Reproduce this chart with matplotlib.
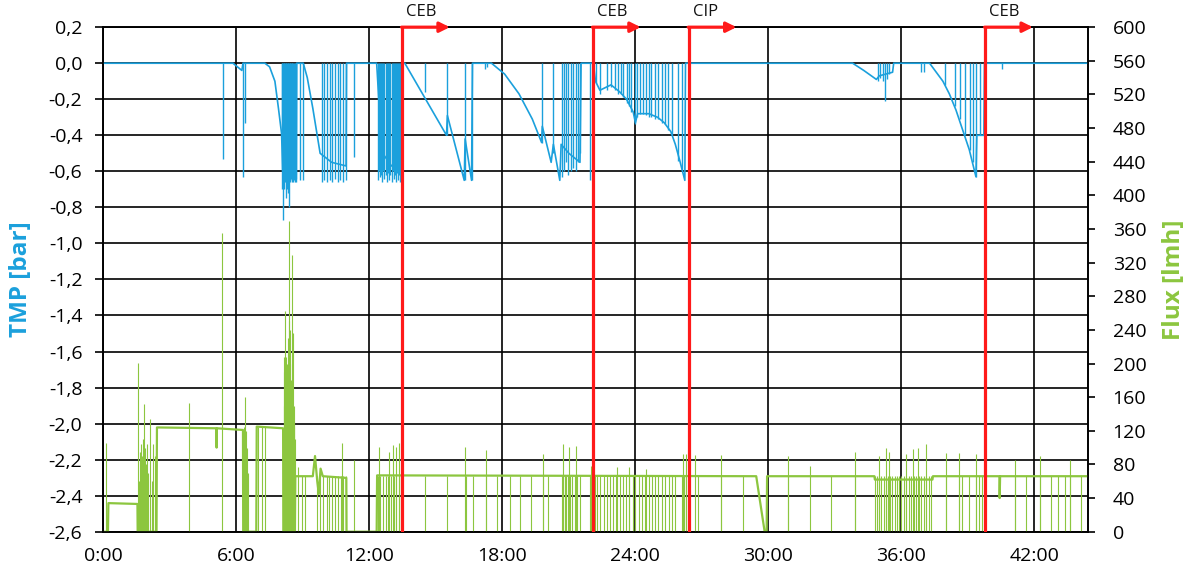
import matplotlib
matplotlib.use('Agg')
import matplotlib.pyplot as plt
import numpy as np

# --- data (time in hours) ---
# TMP trace breakpoints (t, bar)
tmp_trace = [
    (0, 0), (5.85, 0), (6.05, -0.02), (6.25, -0.04), (6.3, 0), (7.29, 0),
    (7.5, -0.02), (7.74, -0.1), (7.9, -0.25), (8.04, -0.39), (8.1, -0.6),
    (8.7, -0.62), (8.72, 0), (9.02, 0), (9.2, -0.08), (9.45, -0.25),
    (9.78, -0.5), (10.3, -0.55), (10.95, -0.57), (10.97, 0), (12.33, 0),
    (12.45, -0.25), (12.6, -0.5), (13.0, -0.57), (13.45, -0.58), (13.47, 0),
    (13.6, 0), (15.48, -0.4), (15.52, -0.29), (16.28, -0.65), (16.32, -0.42),
    (16.61, -0.65), (16.65, 0), (17.51, 0), (18.1, -0.06), (18.75, -0.17),
    (19.35, -0.31), (19.77, -0.44), (19.8, -0.35), (20.2, -0.55),
    (20.3, -0.45), (20.59, -0.65), (20.65, -0.45), (21.0, -0.5),
    (21.5, -0.55), (21.55, 0), (22.1, 0), (22.2, -0.1), (22.4, -0.15),
    (22.9, -0.12), (23.3, -0.16), (23.6, -0.2), (23.9, -0.27), (24.0, -0.33),
    (24.1, -0.28), (24.6, -0.28), (25.0, -0.3), (25.3, -0.33), (25.6, -0.38),
    (25.8, -0.45), (26.0, -0.54), (26.23, -0.65), (26.26, 0), (33.8, 0),
    (34.3, -0.04), (34.87, -0.09), (35.0, -0.07), (35.6, -0.05), (35.65, 0),
    (37.27, 0), (37.87, -0.1), (38.16, -0.17), (38.46, -0.26), (38.76, -0.37),
    (39.06, -0.48), (39.36, -0.63), (39.4, -0.4), (39.72, -0.4), (39.75, 0),
    (44.4, 0),
]

# TMP spikes: vertical strokes from 0 down to the value
tmp_spikes = [
    (5.38, -0.53), (6.31, -0.63), (6.39, -0.33),
    (8.05, -0.6), (8.08, -0.7), (8.11, -0.87), (8.14, -0.7), (8.17, -0.65),
    (8.2, -0.66), (8.23, -0.75), (8.26, -0.66), (8.29, -0.7), (8.32, -0.66),
    (8.35, -0.72), (8.38, -0.8), (8.41, -0.65), (8.44, -0.66), (8.47, -0.64),
    (8.5, -0.66), (8.53, -0.65), (8.56, -0.66), (8.6, -0.65), (8.64, -0.66),
    (8.68, -0.64), (8.71, -0.66), (8.87, -0.65), (8.99, -0.65),
    (9.85, -0.66), (9.97, -0.65), (10.09, -0.66), (10.21, -0.65),
    (10.33, -0.66), (10.45, -0.64), (10.57, -0.66), (10.69, -0.65),
    (10.81, -0.66), (10.93, -0.65), (11.3, -0.52),
    (12.38, -0.65), (12.43, -0.6), (12.48, -0.63), (12.53, -0.62),
    (12.58, -0.66), (12.63, -0.6), (12.68, -0.64), (12.74, -0.62),
    (12.79, -0.66), (12.85, -0.61), (12.9, -0.65), (12.95, -0.62),
    (13.0, -0.66), (13.05, -0.6), (13.1, -0.64), (13.15, -0.62),
    (13.2, -0.66), (13.25, -0.61), (13.3, -0.65), (13.35, -0.62),
    (13.4, -0.66),
    (14.5, -0.16), (15.5, -0.4), (16.3, -0.65), (16.63, -0.65),
    (17.2, -0.03), (17.3, -0.02), (19.77, -0.44), (20.29, -0.5),
    (20.68, -0.63), (20.78, -0.6), (20.86, -0.55), (20.98, -0.62),
    (21.08, -0.6), (21.19, -0.58), (21.31, -0.6), (21.43, -0.55),
    (21.5, -0.5), (21.94, -0.65),
    (22.24, -0.11), (22.39, -0.17), (22.7, -0.15), (22.89, -0.13),
    (23.07, -0.15), (23.22, -0.17), (23.33, -0.17), (23.44, -0.185),
    (23.6, -0.22), (23.71, -0.24), (23.82, -0.27), (23.97, -0.34),
    (24.09, -0.3), (24.23, -0.28), (24.35, -0.28), (24.5, -0.29),
    (24.62, -0.3), (24.72, -0.3), (24.87, -0.31), (25.02, -0.31),
    (25.18, -0.33), (25.32, -0.34), (25.47, -0.37), (25.63, -0.4),
    (25.92, -0.54), (26.08, -0.59),
    (34.95, -0.1), (35.05, -0.08), (35.15, -0.1), (35.27, -0.21),
    (35.35, -0.09), (35.45, -0.06), (36.9, -0.05), (37.0, -0.05),
    (37.95, -0.12), (38.4, -0.24), (38.62, -0.31), (38.85, -0.4),
    (39.07, -0.48), (39.22, -0.55), (39.37, -0.63), (39.53, -0.4),
    (39.72, -0.4), (40.53, -0.03),
]

# Flux trace breakpoints (t, lmh)
flux_trace = [
    (0, 0), (0.21, 0), (0.23, 34), (1.54, 33), (1.55, 0), (2.4, 0),
    (2.42, 124), (5.1, 123), (5.11, 100), (5.12, 123), (6.3, 121), (6.31, 0),
    (6.9, 0), (6.92, 125), (8.11, 123), (8.12, 0), (8.64, 0), (8.66, 66),
    (9.45, 66), (9.55, 90), (9.65, 60), (9.72, 45), (9.8, 75), (9.9, 66),
    (10.96, 64), (10.97, 0), (12.33, 0), (12.35, 67), (29.45, 66),
    (29.83, 0), (29.92, 0), (29.94, 66), (34.78, 66), (34.8, 62),
    (37.4, 62), (37.42, 66), (40.42, 66), (40.43, 40), (40.45, 66),
    (44.4, 66),
]

flux_level_hi = 124
flux_level_lo = 66

# drops to zero from the ~124 lmh level
flux_drops_hi = [6.99, 7.14, 7.3]

# drops to zero from the ~66 lmh level
flux_drops_lo = [
    8.94, 9.09, 9.62, 9.77, 9.92, 10.07, 10.19, 10.31, 10.43, 10.57, 10.7,
    10.82, 10.94, 12.38, 12.5, 12.62, 12.74, 12.86, 12.98, 13.1, 13.22,
    13.34, 13.44, 14.5, 15.48, 16.38, 16.68, 17.25, 17.74, 18.34, 18.79,
    19.31, 19.84, 20.06, 20.67, 20.74, 20.82, 20.89, 20.96, 21.07, 21.16,
    21.27, 21.37, 21.49, 21.97, 22.06, 22.17, 22.28, 22.41, 22.57, 22.7,
    22.86, 22.98, 23.14, 23.3, 23.43, 23.58, 23.72, 23.88, 24.0, 24.17,
    24.31, 24.44, 24.6, 24.76, 24.9, 25.04, 25.19, 25.35, 25.5, 25.63,
    25.79, 26.1, 26.2, 26.3, 26.83, 27.88, 28.86, 30.88, 32.84, 33.89,
    34.79, 34.9, 34.99, 35.1, 35.2, 35.29, 35.39, 35.5, 35.59, 35.69, 35.8,
    35.89, 36.0, 36.1, 36.22, 36.34, 36.45, 36.55, 36.67, 36.79, 36.9, 37.0,
    37.12, 37.24, 37.35, 38.0, 38.6, 38.75, 39.05, 39.35, 39.5, 39.65,
    41.1, 41.63, 42.23, 42.76, 43.06, 43.36, 43.58, 44.11,
]

# spikes drawn from zero up to the value
flux_peaks = [
    (0.1, 105), (1.56, 201), (1.62, 60), (1.66, 95), (1.7, 104), (1.74, 90),
    (1.77, 110), (1.8, 85), (1.84, 152), (1.88, 100), (1.92, 80),
    (1.96, 104), (2.0, 70), (2.1, 134), (2.18, 60), (2.25, 104), (2.35, 90),
    (3.88, 153), (5.34, 355), (6.33, 124), (6.39, 160), (6.44, 120),
    (6.48, 100), (6.53, 70),
    (8.13, 208), (8.15, 150), (8.17, 190), (8.19, 263), (8.21, 170),
    (8.23, 208), (8.25, 140), (8.27, 200), (8.29, 180), (8.31, 230),
    (8.33, 160), (8.36, 250), (8.39, 370), (8.41, 200), (8.44, 240),
    (8.46, 180), (8.49, 329), (8.51, 160), (8.53, 140), (8.56, 236),
    (8.58, 130), (8.6, 150), (8.62, 125), (8.64, 110),
    (8.79, 77), (10.75, 105), (11.32, 85), (12.45, 101), (12.9, 95),
    (13.07, 103), (13.2, 101), (13.35, 105), (16.3, 101), (17.25, 97),
    (19.84, 92), (20.74, 104), (21.0, 101), (21.3, 102), (22.0, 78),
    (23.15, 77), (23.7, 77), (24.5, 74), (26.15, 93), (26.3, 93),
    (26.7, 91), (27.88, 91), (30.88, 90), (31.86, 78), (33.89, 95),
    (35.0, 90), (35.3, 100), (35.45, 95), (36.2, 92), (36.5, 98),
    (36.75, 100), (37.1, 104), (38.0, 94), (38.6, 94), (39.35, 92),
    (41.1, 85), (42.25, 90), (43.6, 85),
]

event_names = ['CEB', 'CEB', 'CIP', 'CEB']
event_times = [13.48, 22.09, 26.41, 39.78]

tmp_ticks = [-2.6, -2.4, -2.2, -2.0, -1.8, -1.6, -1.4, -1.2, -1.0, -0.8,
             -0.6, -0.4, -0.2, 0.0, 0.2]
flux_ticks = list(range(0, 601, 40))
time_ticks = [0, 6, 12, 18, 24, 30, 36, 42]
time_labels = ['0:00', '6:00', '12:00', '18:00', '24:00', '30:00', '36:00', '42:00']

# --- style ---
blue = '#1BA0DC'
green = '#8CC63F'
red = '#FF1A1A'
plt.rcParams['font.family'] = ['Open Sans', 'DejaVu Sans']

fig = plt.figure(figsize=(11.86, 5.76), dpi=100)
ax = fig.add_axes([0.0871, 0.0769, 0.8300, 0.8759])
ax2 = ax.twinx()

ax.set_xlim(0, 44.4)
ax.set_ylim(-2.6, 0.2)
ax2.set_ylim(0, 600)

# grid
ax.set_yticks(tmp_ticks)
ax.set_yticklabels([f'{v:.1f}'.replace('.', ',') for v in tmp_ticks])
ax.set_xticks(time_ticks)
ax.set_xticklabels(time_labels)
ax.grid(True, color='black', linewidth=1.2)
ax.set_axisbelow(True)
for sp in ax.spines.values():
    sp.set_color('black')
    sp.set_linewidth(1.2)
for sp in ax2.spines.values():
    sp.set_color('black')
    sp.set_linewidth(1.2)

ax.tick_params(axis='y', direction='out', length=6, width=1.2, pad=9,
               labelsize=14)
ax.tick_params(axis='x', length=0, pad=11, labelsize=14)
ax2.set_yticks(flux_ticks)
ax2.tick_params(axis='y', direction='out', length=5, width=1.2, pad=13,
                labelsize=14)

# TMP
tt, tv = zip(*tmp_trace)
ax.plot(tt, tv, color=blue, linewidth=1.2, zorder=3)
st, sv = zip(*tmp_spikes)
ax.vlines(st, sv, 0, color=blue, linewidth=1.0, zorder=3)

# Flux
ft, fv = zip(*flux_trace)
ax2.plot(ft, fv, color=green, linewidth=1.6, zorder=2)
ax2.vlines(flux_drops_hi, 0, flux_level_hi, color=green, linewidth=0.8, zorder=2)
ax2.vlines(flux_drops_lo, 0, flux_level_lo, color=green, linewidth=0.8, zorder=2)
pt, pv = zip(*flux_peaks)
ax2.vlines(pt, 0, pv, color=green, linewidth=0.8, zorder=2)

# cleaning events
for name, t in zip(event_names, event_times):
    ax2.axvline(t, color=red, linewidth=2.3, zorder=6)
    ax2.annotate('', xy=(t + 2.15, 600), xytext=(t - 0.03, 600),
                 arrowprops=dict(arrowstyle='-|>', color=red, lw=2.3,
                                 mutation_scale=15, shrinkA=0, shrinkB=0),
                 annotation_clip=False, zorder=7)
    ax2.annotate(name, xy=(t, 600), xytext=(3, 5), textcoords='offset points',
                 ha='left', va='bottom', fontsize=12, color='#111111')

ax.set_ylabel('TMP [bar]', color=blue, fontsize=17.5, fontweight='bold')
ax.yaxis.set_label_coords(-0.071, 0.5)
ax2.set_ylabel('Flux [lmh]', color=green, fontsize=17.5, fontweight='bold',
               rotation=90)
ax2.yaxis.set_label_coords(1.076, 0.5)

fig.savefig('out.png', dpi=100, facecolor='white')
